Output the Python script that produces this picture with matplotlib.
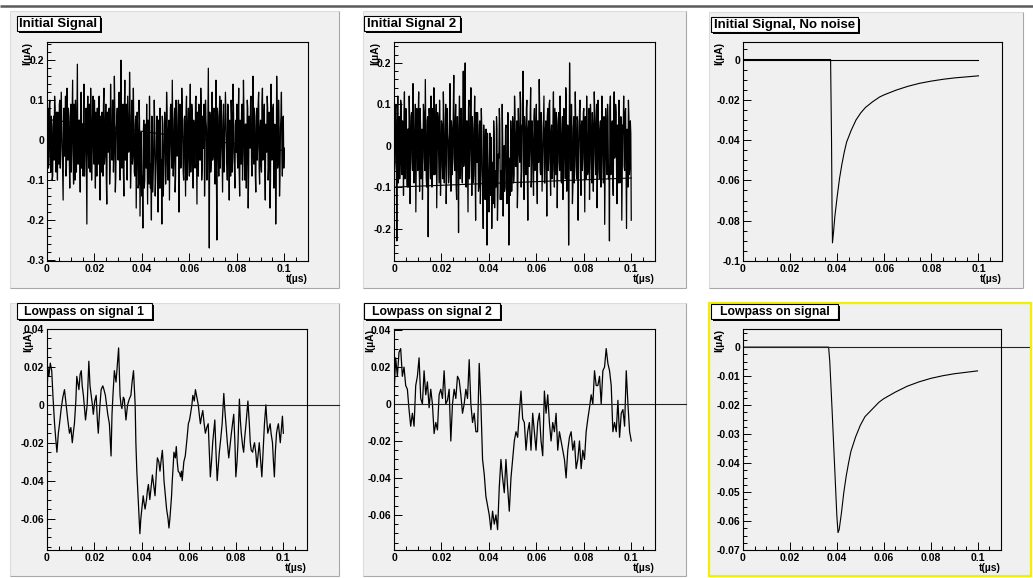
import numpy as np
import matplotlib
matplotlib.use("Agg")
import matplotlib.pyplot as plt
from matplotlib.patches import Rectangle
from matplotlib.lines import Line2D
from matplotlib.ticker import MultipleLocator, FuncFormatter
import matplotlib.transforms as mtransforms

plt.rcParams['font.family'] = ['Liberation Sans', 'DejaVu Sans']
plt.rcParams['axes.unicode_minus'] = False

W, H = 1033, 578

# ---------------- data ----------------
# pad 1: noisy signal, even samples (a) and odd samples (b), uniform in 0..0.1 us
sig1_a = [
    0.12, 0.08, -0.06, 0.10, -0.08, 0.03, -0.09, 0.06, 0.11, -0.04, 0.07, -0.10, 0.02, 0.09, -0.07, 0.12, -0.03, -0.15, 0.08, 0.01, -0.09, 0.13, -0.05, 0.06, -0.12,
    0.09, -0.02, 0.15, -0.11, 0.04, 0.10, -0.08, 0.19, -0.06, 0.05, -0.13, 0.12, 0.00, -0.09, 0.14, -0.04, 0.08, -0.21, 0.11, -0.07, 0.03, 0.13, -0.10, 0.06, -0.03,
    0.10, -0.12, 0.05, 0.08, -0.06, 0.11, -0.15, 0.02, 0.07, -0.09, 0.13, -0.04, 0.09, -0.16, 0.04, 0.06, -0.11, 0.14, -0.02, 0.10, -0.08, 0.16, -0.13, 0.03, 0.08,
    -0.05, 0.12, -0.10, 0.20, -0.07, 0.09, -0.14, 0.15, 0.01, -0.09, 0.11, -0.03, 0.17, -0.12, 0.06, -0.06, 0.13, -0.08, 0.04, -0.17, 0.07, -0.12, 0.10, -0.19, 0.02,
    -0.14, -0.22, 0.05, -0.10, -0.02, 0.09, -0.16, -0.04, 0.11, -0.12, -0.20, 0.03, -0.08, 0.10, -0.14, -0.05, 0.06, -0.18, -0.01, 0.08, -0.12, -0.21, 0.04, -0.09, 0.07,
    -0.11, 0.12, -0.06, 0.03, -0.15, 0.08, -0.02, 0.15, -0.09, 0.05, -0.13, 0.10, -0.04, 0.02, -0.18, 0.09, -0.07, 0.13, -0.01, -0.10, 0.06, -0.14, 0.11, -0.05, 0.08,
    -0.09, 0.14, -0.03, 0.07, -0.12, 0.04, -0.07, 0.11, -0.16, 0.02, 0.09, -0.05, 0.13, -0.10, 0.06, -0.02, -0.14, 0.10, 0.03, -0.08, 0.18, -0.27, 0.05, -0.06, 0.12,
    -0.04, 0.08, -0.11, 0.15, -0.25, 0.06, -0.09, 0.11, -0.02, 0.04, -0.13, 0.09, -0.06, 0.12, 0.01, -0.10, 0.07, -0.15, 0.03, 0.10, -0.08, 0.14, -0.03, -0.12, 0.05,
    0.09, -0.07, 0.13, -0.14, 0.02, 0.07, -0.10, 0.15, -0.05, 0.04, -0.12, 0.10, -0.17, 0.06, -0.02, 0.11, -0.09, 0.16, -0.06, 0.03, -0.13, 0.08, -0.01, 0.12, -0.11,
    0.05, -0.08, 0.13, -0.04, 0.09, -0.15, 0.02, 0.11, -0.10, 0.07, -0.17, 0.14, -0.05, 0.08, -0.12, 0.04, -0.21, 0.16, -0.07, 0.10, -0.14, 0.03, 0.12, -0.09, 0.06,
    -0.02,
]
sig1_b = [
    0.05, -0.07, 0.09, -0.03, 0.06, -0.10, 0.04, -0.05, 0.08, -0.08, 0.03, 0.07, -0.06, 0.10, -0.02, 0.05, -0.09, 0.06, -0.04, 0.11, -0.07, 0.02, 0.08, -0.05, 0.04,
    -0.08, 0.06, -0.04, 0.09, -0.10, 0.03, 0.07, -0.06, 0.05, -0.03, 0.10, -0.07, 0.04, 0.08, -0.09, 0.02, -0.05, 0.07, -0.02, 0.09, -0.08, 0.05, -0.04, 0.11, -0.06,
    0.03, 0.07, -0.09, 0.04, 0.10, -0.05, 0.06, -0.08, 0.02, 0.09, -0.06, 0.05, -0.10, 0.07, -0.03, 0.08, -0.07, 0.04, -0.05, 0.10, -0.02, 0.06, -0.09, 0.05, -0.04,
    0.08, -0.06, 0.11, -0.03, 0.05, -0.08, 0.07, -0.05, 0.09, -0.10, 0.04, -0.02, 0.08, -0.07, 0.10, -0.04, 0.03, -0.09, 0.06, -0.06, 0.02, -0.11, 0.05, -0.08, -0.02,
    -0.09, 0.02, -0.12, 0.04, -0.07, -0.03, 0.05, -0.11, 0.01, -0.06, 0.06, -0.13, -0.02, 0.04, -0.10, 0.03, -0.08, 0.05, -0.12, 0.00, -0.05, 0.06, -0.14, -0.01, 0.03,
    -0.06, 0.07, -0.10, 0.05, -0.03, 0.09, -0.07, 0.04, -0.05, 0.08, -0.09, 0.06, -0.02, 0.10, -0.06, 0.03, -0.04, 0.08, -0.08, 0.05, -0.03, 0.07, -0.10, 0.04, -0.05,
    0.06, -0.08, 0.09, -0.04, 0.05, -0.06, 0.10, -0.03, 0.07, -0.09, 0.04, -0.05, 0.08, -0.07, 0.03, 0.09, -0.06, 0.05, -0.10, 0.06, -0.04, 0.07, -0.08, 0.02, -0.05,
    0.07, -0.05, 0.04, -0.09, 0.08, -0.03, 0.06, -0.07, 0.10, -0.04, 0.05, -0.08, 0.03, 0.07, -0.06, 0.09, -0.02, 0.05, -0.09, 0.06, -0.05, 0.08, -0.07, 0.04, -0.03,
    -0.04, 0.06, -0.08, 0.05, -0.06, 0.09, -0.03, 0.07, -0.10, 0.04, -0.05, 0.08, -0.07, 0.03, 0.10, -0.06, 0.05, -0.04, 0.08, -0.09, 0.06, -0.05, 0.09, -0.07, 0.03,
    -0.06, 0.09, -0.05, 0.06, -0.08, 0.04, -0.03, 0.08, -0.07, 0.05, -0.10, 0.06, -0.04, 0.09, -0.06, 0.03, -0.08, 0.07, -0.05, 0.04, -0.09, 0.06, -0.03, 0.05, -0.07,
]
fit1_t = [0.0, 0.02, 0.04, 0.06, 0.08, 0.10]
fit1_y = [0.052, 0.037, 0.022, 0.006, -0.010, -0.026]

# pad 2: second noisy signal
sig2_a = [
    0.14, -0.04, 0.10, -0.23, 0.12, 0.02, -0.08, 0.11, -0.05, 0.06, -0.12, 0.13, -0.02, 0.08, -0.10, 0.04, 0.12, -0.14, 0.07, -0.03, 0.15, -0.09, 0.03, -0.16, 0.09,
    -0.06, 0.13, -0.11, 0.05, 0.01, -0.13, 0.10, -0.03, 0.16, -0.08, 0.06, -0.22, 0.09, -0.04, 0.12, -0.10, 0.02, 0.14, -0.07, 0.05, -0.15, 0.08, -0.01, 0.11, -0.12,
    0.06, -0.05, 0.13, -0.09, 0.03, -0.14, 0.09, 0.01, -0.07, 0.15, -0.11, 0.04, -0.02, 0.17, -0.06, 0.10, -0.13, 0.07, -0.21, 0.12, -0.04, 0.09, -0.09, 0.18, -0.03,
    0.20, -0.10, 0.06, -0.16, 0.11, -0.02, 0.14, -0.12, 0.04, -0.07, 0.12, -0.18, 0.03, 0.08, -0.11, 0.05, -0.14, 0.09, -0.06, -0.20, 0.02, -0.13, 0.04, -0.24, -0.05,
    -0.16, 0.03, -0.12, -0.20, -0.04, 0.06, -0.15, -0.08, 0.07, -0.18, -0.02, 0.09, -0.13, -0.06, 0.10, -0.17, 0.00, -0.10, 0.05, -0.14, 0.08, -0.24, -0.03, 0.06, -0.11,
    0.07, -0.09, 0.12, -0.05, 0.03, -0.15, 0.09, -0.02, 0.13, -0.10, 0.05, 0.18, -0.13, 0.04, -0.07, 0.11, -0.18, 0.06, -0.01, 0.14, -0.08, 0.02, -0.12, 0.09, -0.05,
    0.10, -0.14, 0.04, 0.16, -0.06, 0.08, -0.11, 0.02, 0.12, -0.09, 0.06, -0.17, 0.09, -0.03, 0.11, -0.12, 0.05, -0.06, 0.13, -0.10, 0.01, 0.08, -0.15, 0.06, -0.04,
    0.12, -0.08, 0.03, -0.13, 0.09, -0.02, 0.14, -0.11, 0.05, -0.24, 0.20, -0.06, 0.10, -0.14, 0.04, -0.09, 0.13, -0.05, 0.07, -0.18, 0.02, 0.11, -0.12, 0.06, -0.03,
    0.09, -0.16, 0.05, 0.12, -0.07, 0.03, -0.13, 0.10, -0.04, 0.08, -0.11, 0.13, -0.02, 0.06, -0.15, 0.11, -0.06, 0.04, -0.10, 0.12, -0.03, 0.07, -0.19, 0.09, -0.05,
    0.10, -0.08, -0.23, 0.12, -0.04, 0.06, -0.12, 0.13, -0.02, 0.08, -0.14, 0.04, 0.11, -0.09, 0.07, -0.18, 0.05, 0.12, -0.06, 0.09, -0.20, 0.03, 0.11, -0.07, 0.06,
    -0.18,
]
sig2_b = [
    -0.06, 0.08, -0.03, 0.05, -0.09, 0.07, -0.04, 0.10, -0.07, 0.03, 0.06, -0.08, 0.09, -0.05, 0.04, -0.10, 0.06, -0.02, 0.08, -0.06, 0.05, -0.07, 0.10, -0.04, 0.03,
    0.07, -0.05, 0.09, -0.08, 0.04, -0.03, 0.08, -0.06, 0.05, -0.10, 0.07, -0.04, 0.06, -0.08, 0.03, 0.09, -0.07, 0.05, -0.05, 0.10, -0.03, 0.06, -0.09, 0.04, -0.06,
    0.05, -0.08, 0.07, -0.04, 0.10, -0.06, 0.03, -0.09, 0.08, -0.05, 0.06, -0.07, 0.09, -0.03, 0.05, -0.10, 0.07, -0.04, 0.04, -0.08, 0.09, -0.06, 0.03, -0.05, 0.11,
    -0.07, 0.06, -0.05, 0.09, -0.08, 0.04, -0.03, 0.07, -0.09, 0.05, -0.06, 0.08, -0.04, 0.03, -0.10, 0.06, -0.07, 0.04, -0.11, 0.05, -0.08, 0.02, -0.12, 0.03, -0.09,
    -0.04, -0.11, 0.02, -0.08, -0.14, 0.03, -0.06, -0.10, 0.04, -0.12, -0.03, 0.05, -0.09, -0.13, 0.02, -0.07, -0.11, 0.04, -0.05, -0.10, 0.03, -0.08, -0.12, 0.01, -0.06,
    0.04, -0.07, 0.08, -0.05, 0.06, -0.09, 0.03, -0.04, 0.10, -0.06, 0.05, -0.08, 0.07, -0.03, 0.09, -0.07, 0.04, -0.05, 0.08, -0.10, 0.06, -0.04, 0.07, -0.06, 0.05,
    -0.08, 0.06, -0.04, 0.09, -0.07, 0.05, -0.05, 0.08, -0.09, 0.04, -0.03, 0.07, -0.06, 0.10, -0.05, 0.03, -0.08, 0.06, -0.04, 0.09, -0.07, 0.05, -0.03, 0.08, -0.06,
    0.05, -0.09, 0.07, -0.04, 0.06, -0.08, 0.10, -0.05, 0.03, -0.07, 0.09, -0.06, 0.04, -0.10, 0.07, -0.03, 0.05, -0.08, 0.06, -0.04, 0.09, -0.07, 0.05, -0.06, 0.08,
    -0.05, 0.07, -0.08, 0.04, -0.06, 0.09, -0.04, 0.06, -0.09, 0.05, -0.03, 0.08, -0.07, 0.10, -0.05, 0.04, -0.08, 0.06, -0.06, 0.03, -0.09, 0.07, -0.04, 0.05, -0.07,
    0.06, -0.05, 0.09, -0.07, 0.04, -0.08, 0.06, -0.03, 0.10, -0.06, 0.05, -0.09, 0.07, -0.04, 0.06, -0.07, 0.03, -0.05, 0.08, -0.06, 0.04, -0.10, 0.07, -0.05, 0.03,
]
fit2_t = [0.0, 0.10]
fit2_y = [-0.100, -0.078]

# pad 3: signal without noise
clean_t = [0.0, 0.0372, 0.0374, 0.0376, 0.0378, 0.0380, 0.0385, 0.039, 0.040, 0.041, 0.042,
           0.043, 0.044, 0.045, 0.046, 0.048, 0.050, 0.052, 0.055, 0.058, 0.060, 0.065,
           0.070, 0.075, 0.080, 0.085, 0.090, 0.095, 0.100]
clean_y = [0.0, 0.0, -0.020, -0.040, -0.072, -0.091, -0.085, -0.078, -0.068, -0.059, -0.052,
           -0.046, -0.041, -0.038, -0.035, -0.030, -0.0265, -0.0238, -0.0210, -0.0186, -0.0175, -0.0152,
           -0.0133, -0.0118, -0.0107, -0.0098, -0.0091, -0.0086, -0.0081]
base_t = [0.0, 0.1]
base_y = [0.0, 0.0]

# pad 4: lowpass on signal 1 (t in units of 1e-3 us)
lp1_t = [
    0.0, 0.4, 0.8, 1.4, 2.0, 2.5, 3.2, 3.7, 4.2, 4.8, 5.3, 6.0, 6.7, 7.4, 8.1, 8.8, 9.5, 10.1, 10.7, 11.2,
    11.6, 12.2, 12.6, 13.0, 13.5, 14.0, 14.5, 14.9, 15.4, 15.9, 16.3, 17.0, 17.7, 18.2, 18.7, 19.2, 19.6, 20.2, 20.8, 21.3,
    21.7, 22.3, 22.9, 23.6, 24.1, 24.7, 25.2, 25.7, 26.4, 27.1, 27.5, 27.9, 28.5, 29.2, 29.7, 30.3, 30.9, 31.3, 31.7, 32.3,
    32.7, 33.4, 34.1, 34.8, 35.5, 36.0, 36.6, 37.0, 37.3, 37.6, 38.0, 38.4, 39.0, 39.3, 39.7, 40.1, 40.7, 41.1, 41.5, 42.1,
    42.5, 42.9, 43.5, 44.0, 44.6, 45.2, 45.7, 46.3, 46.7, 47.3, 47.8, 48.4, 48.8, 49.2, 49.5, 50.1, 50.6, 51.2, 51.6, 52.0,
    52.3, 52.7, 53.0, 53.4, 53.7, 54.3, 54.7, 55.1, 55.5, 56.1, 56.5, 56.9, 57.2, 57.6, 57.9, 58.5, 58.9, 59.3, 59.8, 60.3,
    60.7, 61.3, 61.7, 62.3, 62.8, 63.4, 64.0, 64.5, 64.9, 65.4, 65.9, 66.5, 67.0, 67.6, 68.2, 68.7, 69.1, 69.6, 70.1, 70.6,
    71.0, 71.5, 72.0, 72.4, 72.9, 73.5, 74.1, 74.8, 75.2, 75.7, 76.3, 76.9, 77.4, 78.0, 78.5, 79.0, 79.5, 79.9, 80.4, 80.8,
    81.4, 81.8, 82.2, 82.8, 83.2, 83.6, 84.2, 84.6, 85.0, 85.6, 86.0, 86.4, 87.0, 87.4, 87.8, 88.4, 88.8, 89.2, 89.8, 90.3,
    90.9, 91.6, 92.0, 92.6, 93.0, 93.4, 94.0, 94.4, 94.8, 95.4, 95.8, 96.2, 96.6, 97.1, 97.5, 97.9, 98.3, 98.7, 99.2, 99.6,
    100.0,
]
lp1_y = [
    0.005, 0.02, 0.015, 0.022, 0.018, 0.005, -0.01, -0.018, -0.025, -0.015, -0.01, -0.002, 0.004, 0.008, 0.0, -0.008, -0.015, -0.012, -0.02, -0.014,
    -0.01, 0.002, 0.015, 0.012, 0.008, 0.016, 0.018, 0.01, 0.005, -0.002, -0.008, 0.0, 0.023, 0.01, 0.005, 0.0, -0.005, 0.002, 0.005, -0.008,
    -0.015, -0.002, 0.008, 0.01, 0.008, 0.005, 0.0, -0.005, -0.01, -0.027, -0.005, 0.005, 0.018, 0.012, 0.02, 0.03, 0.005, 0.0, -0.002, 0.004,
    0.003, -0.008, 0.0, 0.003, 0.005, 0.012, 0.018, 0.008, 0.0, -0.02, -0.035, -0.045, -0.06, -0.068, -0.06, -0.055, -0.048, -0.052, -0.055, -0.05,
    -0.045, -0.042, -0.05, -0.044, -0.037, -0.043, -0.048, -0.035, -0.028, -0.03, -0.035, -0.028, -0.024, -0.032, -0.04, -0.048, -0.055, -0.06, -0.065, -0.06,
    -0.055, -0.048, -0.04, -0.032, -0.025, -0.028, -0.022, -0.03, -0.035, -0.036, -0.038, -0.035, -0.04, -0.034, -0.03, -0.027, -0.022, -0.017, -0.01, -0.008,
    -0.005, 0.0, 0.005, 0.002, 0.008, 0.004, 0.0, -0.006, -0.01, -0.006, -0.003, -0.01, -0.015, -0.012, -0.01, -0.025, -0.038, -0.03, -0.02, -0.013,
    -0.008, -0.025, -0.04, -0.033, -0.025, -0.018, -0.01, 0.006, -0.002, -0.01, -0.02, -0.028, -0.022, -0.015, -0.01, -0.005, -0.02, -0.038, -0.03, -0.02,
    0.003, -0.008, -0.015, -0.022, -0.025, -0.018, -0.01, -0.004, 0.002, -0.01, -0.02, -0.024, -0.025, -0.022, -0.02, -0.026, -0.033, -0.028, -0.02, -0.028,
    -0.038, -0.02, -0.01, 0.0, -0.008, -0.015, -0.012, -0.01, -0.015, -0.02, -0.03, -0.038, -0.025, -0.015, -0.012, -0.01, -0.015, -0.02, -0.012, -0.006,
    -0.015,
]

# pad 5: lowpass on signal 2 (uniform sampling 0..0.1 us)
lp2 = [
    0.005, 0.025, 0.015, 0.028, 0.03, 0.015, 0.02, 0.01, 0.008, -0.003, -0.012, -0.005, -0.012, 0.01, 0.015, 0.025, 0.003, 0.0, 0.018, 0.005,
    0.012, -0.002, 0.008, 0.0, -0.016, -0.01, -0.014, 0.005, 0.008, 0.003, 0.018, 0.0, 0.002, 0.008, -0.02, 0.0, 0.008, 0.003, 0.015, 0.013,
    0.005, -0.005, 0.0, 0.008, 0.003, 0.024, 0.0, -0.01, -0.005, -0.015, -0.015, 0.022, 0.0, -0.03, -0.038, -0.05, -0.055, -0.06, -0.068, -0.058,
    -0.065, -0.06, -0.068, -0.045, -0.03, -0.04, -0.048, -0.03, -0.045, -0.058, -0.04, -0.03, -0.02, -0.015, -0.018, -0.005, 0.007, -0.008, -0.01, -0.025,
    -0.015, -0.01, -0.025, -0.005, -0.015, -0.025, -0.01, -0.005, -0.02, -0.028, 0.007, -0.005, 0.005, -0.01, -0.02, -0.01, -0.015, -0.005, -0.025, -0.015,
    -0.02, -0.025, -0.03, -0.04, -0.025, -0.018, -0.015, -0.025, -0.02, -0.035, -0.03, -0.02, -0.035, -0.025, -0.03, -0.015, -0.008, -0.002, 0.005, 0.0,
    0.018, 0.01, 0.01, 0.015, 0.0, 0.018, 0.02, 0.03, 0.022, 0.018, 0.01, -0.015, -0.01, -0.015, 0.002, -0.018, -0.005, -0.003, -0.012, 0.018,
    0.0, -0.015, -0.02,
]

# pad 6: lowpass on clean signal
lpc_t = [0.0, 0.0365, 0.037, 0.038, 0.039, 0.040, 0.0405, 0.041, 0.042, 0.043, 0.044, 0.045,
         0.046, 0.048, 0.050, 0.052, 0.055, 0.058, 0.060, 0.065, 0.070, 0.075, 0.080, 0.085,
         0.090, 0.095, 0.100]
lpc_y = [0.0, 0.0, -0.005, -0.022, -0.040, -0.058, -0.064, -0.063, -0.057, -0.050, -0.0445, -0.040,
         -0.036, -0.031, -0.027, -0.024, -0.0215, -0.019, -0.0178, -0.0155, -0.0135, -0.0120, -0.0108, -0.0099,
         -0.0092, -0.0087, -0.0082]

titles = ["Initial Signal", "Initial Signal 2", "Initial Signal, No noise",
          "Lowpass on signal 1", "Lowpass on signal 2", "Lowpass on signal"]

# ---------------- layout (pixels) ----------------
pads = [(10, 11, 339, 288), (363, 11, 686, 288), (709, 12, 1023, 288),
        (10, 303, 339, 576), (363, 303, 686, 576), (709, 303, 1031, 576)]
frames = [(47, 42, 308, 261), (394, 42, 655, 261), (743, 42, 1002, 261),
          (47, 329, 307, 550), (394, 329, 655, 550), (743, 329, 1001, 550)]
boxes = [(17, 16, 100, 31), (364, 16, 460, 31), (711, 17, 858, 32),
         (17, 303, 152, 319), (364, 303, 500, 319), (711, 304, 838, 319)]
ylims = [(-0.3025, 0.2456), (-0.2785, 0.2505), (-0.1, 0.0087),
         (-0.0766, 0.040), (-0.079, 0.0406), (-0.07, 0.00625)]
ymaj = [0.1, 0.1, 0.02, 0.02, 0.02, 0.01]
ymin = [0.02, 0.02, 0.005, 0.005, 0.005, 0.0025]
ytitle_off = [-20, -19, -24, -19, -24, -24]

fig = plt.figure(figsize=(W / 100, H / 100), dpi=100)
fig.patch.set_facecolor('white')


def fx(px):
    return px / W


def fy(py):
    return 1 - py / H


def fline(x0, y0, x1, y1, color, lw, z):
    fig.add_artist(Line2D([fx(x0), fx(x1)], [fy(y0), fy(y1)], transform=fig.transFigure,
                          color=color, lw=lw, zorder=z, solid_capstyle='butt'))


# dark line along the top of the canvas
fline(0, 6, W, 6, '#5a5a5a', 1.8, -2)

for i, (x0, y0, x1, y1) in enumerate(pads):
    fig.add_artist(Rectangle((fx(x0), fy(y1)), (x1 - x0) / W, (y1 - y0) / H, transform=fig.transFigure,
                             facecolor='#f0f0f0', edgecolor='none', zorder=-2))
    fline(x0, y0, x1, y0, '#dcdcdc', 0.8, -1)
    fline(x0, y0, x0, y1, '#dcdcdc', 0.8, -1)
    fline(x1, y0, x1, y1, '#a8a8a8', 0.8, -1)
    fline(x0, y1, x1, y1, '#a8a8a8', 0.8, -1)


def fmt(v, p):
    if abs(v) < 1e-9:
        return '0'
    return '%g' % round(v, 6)


axes = []
for i, (x0, y0, x1, y1) in enumerate(frames):
    ax = fig.add_axes([fx(x0), fy(y1), (x1 - x0) / W, (y1 - y0) / H])
    ax.set_facecolor('#f0f0f0')
    for s in ax.spines.values():
        s.set_linewidth(0.8)
        s.set_color('black')
    ax.set_xlim(0, 0.11)
    ax.set_ylim(*ylims[i])
    ax.xaxis.set_major_locator(MultipleLocator(0.02))
    ax.xaxis.set_minor_locator(MultipleLocator(0.005))
    ax.yaxis.set_major_locator(MultipleLocator(ymaj[i]))
    ax.yaxis.set_minor_locator(MultipleLocator(ymin[i]))
    ax.xaxis.set_major_formatter(FuncFormatter(fmt))
    ax.yaxis.set_major_formatter(FuncFormatter(fmt))
    ax.tick_params(which='both', direction='in', top=False, right=False, width=0.7)
    ax.tick_params(which='major', length=6, labelsize=7.5, pad=2)
    ax.tick_params(which='minor', length=3)
    for lab in ax.get_xticklabels() + ax.get_yticklabels():
        lab.set_fontweight('bold')
    ax.annotate('I(\u00b5A)', xy=(0, 1), xycoords='axes fraction',
                xytext=(ytitle_off[i] * 0.72, 0), textcoords='offset points',
                rotation=90, ha='center', va='top', fontsize=7.5, fontweight='bold')
    ax.annotate('t(\u00b5s)', xy=(1, 0), xycoords='axes fraction',
                xytext=(0, -18 * 0.72), textcoords='offset points',
                ha='right', va='center', fontsize=7.5, fontweight='bold')
    axes.append(ax)


def merge(a, b):
    out = np.empty(len(a) + len(b))
    out[0::2] = a
    out[1::2] = b
    return out


lw = 0.9
s1 = merge(sig1_a, sig1_b)
axes[0].plot(np.linspace(0, 0.1, len(s1)), s1, color='black', lw=lw)
axes[0].plot(fit1_t, fit1_y, color='black', lw=0.8)

s2 = merge(sig2_a, sig2_b)
axes[1].plot(np.linspace(0, 0.1, len(s2)), s2, color='black', lw=lw)
axes[1].plot(fit2_t, fit2_y, color='black', lw=0.8)

axes[2].plot(base_t, base_y, color='black', lw=0.8)
axes[2].plot(clean_t, clean_y, color='black', lw=0.8)

axes[3].plot(np.array(lp1_t) * 1e-3, lp1_y, color='black', lw=0.9)
axes[4].plot(np.linspace(0, 0.1, len(lp2)), lp2, color='black', lw=0.9)
axes[5].plot(lpc_t, lpc_y, color='black', lw=0.8)

# zero reference line across the lower pads
for k in (3, 4, 5):
    ax = axes[k]
    tr = mtransforms.blended_transform_factory(fig.transFigure, ax.transData)
    ax.plot([fx(frames[k][0]), fx(pads[k][2])], [0, 0], transform=tr,
            color='#222222', lw=0.8, clip_on=False)

# highlighted (selected) pad
x0, y0, x1, y1 = pads[5]
fig.add_artist(Rectangle((fx(x0), fy(y1)), (x1 - x0) / W, (y1 - y0) / H, transform=fig.transFigure,
                         facecolor='none', edgecolor='#f2f000', lw=1.6, zorder=5))

# title boxes with shadow
for i, (x0, y0, x1, y1) in enumerate(boxes):
    fig.add_artist(Rectangle((fx(x0 + 2), fy(y1 + 2)), (x1 - x0) / W, (y1 - y0) / H,
                             transform=fig.transFigure, facecolor='black', edgecolor='none', zorder=6))
    fig.add_artist(Rectangle((fx(x0), fy(y1)), (x1 - x0) / W, (y1 - y0) / H,
                             transform=fig.transFigure, facecolor='white', edgecolor='black', lw=0.8, zorder=7))
    size = 9.5 if i < 3 else 8.8
    fig.text(fx((x0 + x1) / 2), fy((y0 + y1) / 2 + 0.5), titles[i], ha='center', va='center',
             fontsize=size, fontweight='bold', zorder=8)

fig.savefig('out.png', dpi=100, facecolor='white')
